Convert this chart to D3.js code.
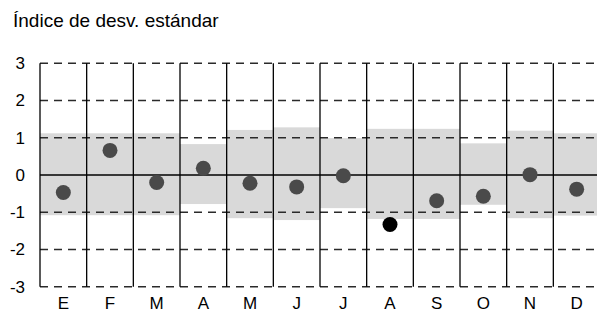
<!DOCTYPE html>
<html>
<head>
<meta charset="utf-8">
<script src="https://cdn.jsdelivr.net/npm/d3@7"></script>
<style>
  body { margin: 0; background: #fff; }
  text { font-family: "Liberation Sans", Arial, sans-serif; fill: #000; }
</style>
</head>
<body>
<div id="chart"></div>
<script>
var months = ["E", "F", "M", "A", "M", "J", "J", "A", "S", "O", "N", "D"];
var values = [-0.47, 0.66, -0.2, 0.18, -0.22, -0.32, -0.02, -1.33, -0.69, -0.57, 0.01, -0.38];
var bandHigh = [1.12, 1.12, 1.12, 0.83, 1.21, 1.28, 0.99, 1.24, 1.24, 0.85, 1.19, 1.12];
var bandLow = [-1.08, -1.08, -1.08, -0.78, -1.16, -1.21, -0.89, -1.18, -1.18, -0.8, -1.16, -1.09];
var highlight = [false, false, false, false, false, false, false, true, false, false, false, false];
var yTicks = [3, 2, 1, 0, -1, -2, -3];
var title = "Índice de desv. estándar";

var width = 597, height = 313;
var plotLeft = 40, plotRight = 600, plotTop = 63.3, plotBottom = 286.7;

var svg = d3.select("#chart").append("svg")
    .attr("width", width)
    .attr("height", height);

var idx = d3.range(months.length);

var x = d3.scaleBand()
    .domain(idx)
    .range([plotLeft, plotRight])
    .padding(0);

var y = d3.scaleLinear()
    .domain([-3, 3])
    .range([plotBottom, plotTop]);

svg.append("text")
    .attr("x", 13)
    .attr("y", 27)
    .style("font-size", "19px")
    .text(title);

// grey band
svg.append("g").selectAll("rect").data(idx).enter().append("rect")
    .attr("x", function(i){ return x(i); })
    .attr("width", x.bandwidth())
    .attr("y", function(i){ return y(bandHigh[i]); })
    .attr("height", function(i){ return y(bandLow[i]) - y(bandHigh[i]); })
    .attr("fill", "#d9d9d9");

// dashed grid
svg.append("g").selectAll("line").data(yTicks.filter(function(d){ return d != 0; })).enter().append("line")
    .attr("x1", plotLeft)
    .attr("x2", width)
    .attr("y1", function(d){ return y(d); })
    .attr("y2", function(d){ return y(d); })
    .attr("stroke", "#2a2a2a")
    .attr("stroke-width", 1.5)
    .attr("stroke-dasharray", "8,6");

// zero line
svg.append("line")
    .attr("x1", plotLeft)
    .attr("x2", width)
    .attr("y1", y(0))
    .attr("y2", y(0))
    .attr("stroke", "#000")
    .attr("stroke-width", 1.3);

// month separators
svg.append("g").selectAll("line").data(idx).enter().append("line")
    .attr("x1", function(i){ return x(i); })
    .attr("x2", function(i){ return x(i); })
    .attr("y1", plotTop)
    .attr("y2", plotBottom)
    .attr("stroke", "#000")
    .attr("stroke-width", 1.3);

// y tick labels
svg.append("g").selectAll("text").data(yTicks).enter().append("text")
    .attr("x", 25)
    .attr("y", function(d){ return y(d); })
    .attr("dy", "0.35em")
    .attr("text-anchor", "end")
    .style("font-size", "17px")
    .text(function(d){ return d; });

// month labels
svg.append("g").selectAll("text").data(idx).enter().append("text")
    .attr("x", function(i){ return x(i) + x.bandwidth() / 2; })
    .attr("y", 309)
    .attr("text-anchor", "middle")
    .style("font-size", "17px")
    .text(function(i){ return months[i]; });

// points
svg.append("g").selectAll("circle").data(idx).enter().append("circle")
    .attr("cx", function(i){ return x(i) + x.bandwidth() / 2; })
    .attr("cy", function(i){ return y(values[i]); })
    .attr("r", 7.5)
    .attr("fill", function(i){ return highlight[i] ? "#000" : "#4a4a4a"; });
</script>
</body>
</html>
